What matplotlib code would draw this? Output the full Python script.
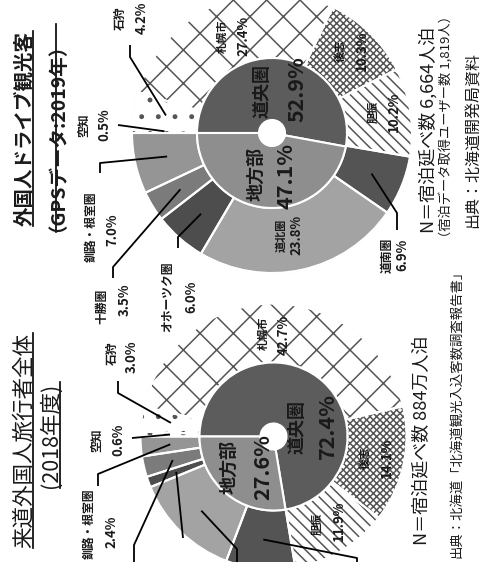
import matplotlib
matplotlib.use('Agg')
import matplotlib.pyplot as plt
from matplotlib.patches import Circle
import numpy as np

plt.rcParams['font.family'] = ['Noto Sans CJK JP', 'DejaVu Sans']
plt.rcParams['hatch.linewidth'] = 1.1

W, H = 492, 562

# data
areas = ['空知', '石狩', '札幌市', '後志', '胆振',
         '道南圏', '道北圏', 'オホーツク圏', '十勝圏', '釧路・根室圏']
share19 = [0.5, 4.2, 27.4, 10.3, 10.2, 6.9, 23.8, 6.0, 3.5, 7.0]
share18 = [0.6, 3.0, 42.7, 14.1, 11.9, 8.4, 13.0, 1.3, 2.5, 2.4]
blocks = ['道央圏', '地方部']
block19 = [52.9, 47.1]
block18 = [72.4, 27.6]

# styles
area_face = ['white', 'white', 'white', 'white', 'white',
             '#545454', '#a3a3a3', '#4d4d4d', '#7b7b7b', '#959595']
area_hatch = ['.', '.', 'x', 'xxxxx', '\\\\\\', None, None, None, None, None]
hatch_col = '#555555'
block_face = ['#5c5c5c', '#8e8e8e']
txt_col = '#1a1a1a'

fig = plt.figure(figsize=(W / 100, H / 100), dpi=100)
ax = fig.add_axes([0, 0, 1, 1])


def Y(y):
    # picture rows run downward, the axes run upward
    return H - y


def donut(center, R, r_in, hole, outer_vals, inner_vals):
    cx, cy = center[0], Y(center[1])
    outer, _ = ax.pie(outer_vals, radius=R, center=(cx, cy), startangle=180,
                      counterclock=False, colors=area_face, frame=True,
                      wedgeprops=dict(width=R - r_in, linewidth=0,
                                      edgecolor=hatch_col))
    for w, h in zip(outer, area_hatch):
        if h:
            w.set_hatch(h)
    ax.add_patch(Circle((cx, cy), R, fill=False, edgecolor='#d0d0d0', lw=0.8))
    ax.pie(outer_vals, radius=R, center=(cx, cy), startangle=180,
           counterclock=False, frame=True,
           wedgeprops=dict(width=R - r_in, linewidth=1.5, edgecolor='white',
                           fill=False))
    inner, _ = ax.pie(inner_vals, radius=r_in, center=(cx, cy), startangle=180,
                      counterclock=False, colors=block_face, frame=True,
                      wedgeprops=dict(width=r_in - hole, linewidth=1.5,
                                      edgecolor='white'))
    return outer, inner


def txt(x, y, s, size, weight='bold', **kw):
    return ax.text(x, Y(y), s, rotation=90, ha='center', va='center',
                   fontsize=size, fontweight=weight, color=txt_col, **kw)


def leader(w, pts):
    th = np.deg2rad((w.theta1 + w.theta2) / 2)
    rm = w.r - w.width / 2
    xs = [w.center[0] + rm * np.cos(th)] + [p[0] for p in pts]
    ys = [w.center[1] + rm * np.sin(th)] + [Y(p[1]) for p in pts]
    ax.plot(xs, ys, color='black', lw=1.3, solid_capstyle='butt')


out19, in19 = donut((272, 133), 140, 75, 13, share19, block19)
out18, in18 = donut((273.5, 436.5), 133, 74, 13, share18, block18)

# labels: (x of name, x of percent, y of name, y of percent)
lab19 = {0: (83, 104, 125, 125), 1: (120, 142, 18, 18), 2: (222, 243, 36, 36),
         3: (340, 362, 51, 51), 4: (373, 394, 112, 112),
         5: (387, 402, 255, 255), 6: (281, 296, 235, 235),
         7: (168, 191, 297, 297), 8: (102, 125, 306, 300),
         9: (91, 112, 227, 230)}
lab18 = {0: (96, 118, 440, 440), 1: (112, 132, 353, 357),
         2: (263, 284, 333, 335), 3: (365, 387, 458, 458),
         4: (317, 339, 524, 521), 9: (89, 111, 524, 532)}
inside = {2, 3, 4, 6}

for lab, vals in ((lab19, share19), (lab18, share18)):
    for i, (xn, xp, yn, yp) in lab.items():
        txt(xn, yn, areas[i], 8.5 if i not in inside else 8)
        txt(xp, yp, f'{vals[i]:.1f}%', 9.5)

# leader lines (elbow / end points next to the labels)
lead19 = {0: [(118, 125)], 1: [(130, 57), (130, 45)],
          9: [(100, 163), (100, 173)], 8: [(113, 267), (113, 278)],
          7: [(178, 237), (178, 248)], 5: [(397, 213), (397, 230)]}
lead18 = {0: [(132, 438)], 1: [(118, 393), (118, 381)],
          9: [(98, 474), (98, 486)], 8: [(134, 545), (134, 566)],
          7: [(183, 538)], 6: [(237, 549), (237, 566)],
          5: [(357, 558), (357, 566)]}
for lead, wedges in ((lead19, out19), (lead18, out18)):
    for i, pts in lead.items():
        leader(wedges[i], pts)

# inner ring labels
txt(262, 91, blocks[0], 13)
txt(297, 89, f'{block19[0]:.1f}%', 15.5)
txt(256, 174, blocks[1], 13)
txt(286, 176, f'{block19[1]:.1f}%', 15.5)
txt(297, 427, blocks[0], 13)
txt(327, 426, f'{block18[0]:.1f}%', 15.5)
txt(229, 467, blocks[1], 13)
txt(263, 467, f'{block18[1]:.1f}%', 15.5)

# titles
titles = [txt(25, 128, '外国人ドライブ観光客', 14),
          txt(48, 128, '（GPSデータ:2019年）', 14),
          txt(24, 440, '来道外国人旅行者全体', 15.5, weight='normal'),
          txt(51, 435, '(2018年度)', 15.5, weight='normal')]

# notes
txt(428, 130, 'N＝宿泊延べ数 6,664人泊', 13, weight='normal')
txt(447, 127, '（宿泊データ取得ユーザー数 1,819人）', 9.5, weight='normal')
txt(473, 140, '出典：北海道開発局資料', 11.5, weight='normal')
txt(422, 440, 'N＝宿泊延べ数 884万人泊', 13, weight='normal')
ax.text(456, Y(264), '出典：北海道「北海道観光入込客数調査報告書」', rotation=90,
        ha='center', va='top', fontsize=9.6, color=txt_col)

ax.set_xlim(0, W)
ax.set_ylim(0, H)
ax.set_aspect('equal', adjustable='box')
ax.axis('off')

# underline the titles
fig.canvas.draw()
rend = fig.canvas.get_renderer()
for t in titles:
    bb = t.get_window_extent(rend).transformed(ax.transData.inverted())
    ax.plot([bb.x1 - 2, bb.x1 - 2], [bb.y0, bb.y1], color='black', lw=1.2)

fig.savefig('out.png', dpi=100)
